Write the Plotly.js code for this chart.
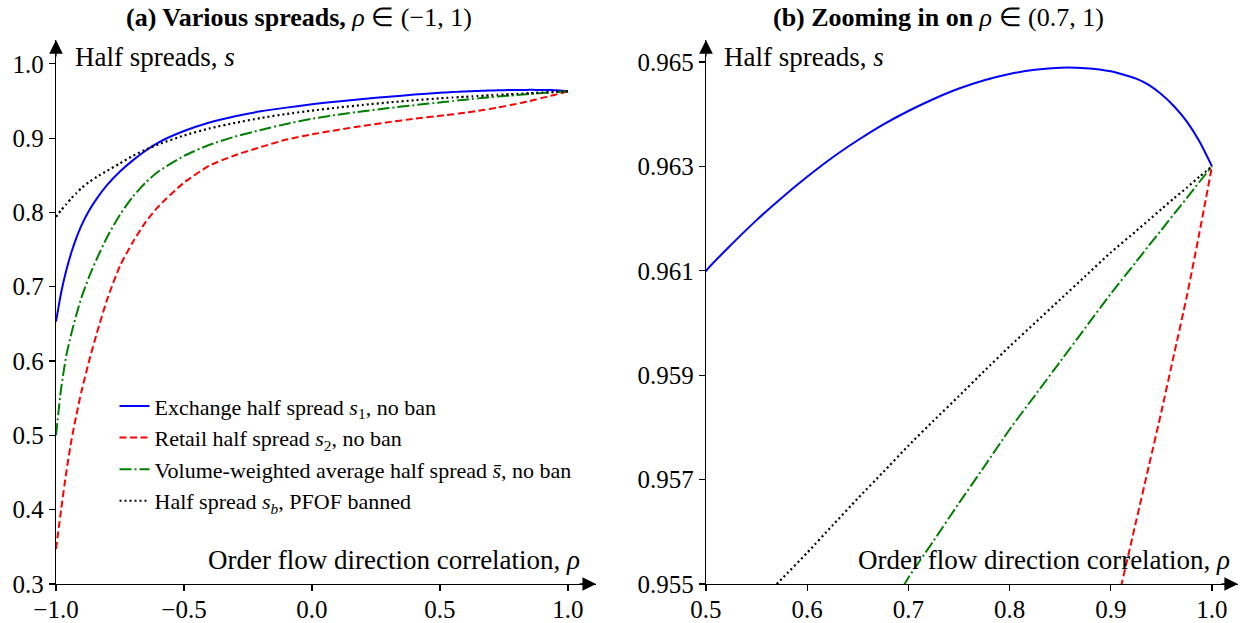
<!DOCTYPE html>
<html>
<head>
<meta charset="utf-8">
<script src="https://cdn.plot.ly/plotly-3.0.1.min.js"></script>
<style>html,body{margin:0;padding:0;background:#fff;}#chart{width:1247px;height:623px;}</style>
</head>
<body>
<div id="chart"></div>
<script>
// Order flow direction correlation (rho)
const rho = [-1, -0.98, -0.96, -0.94, -0.92, -0.9, -0.87, -0.84, -0.8, -0.75, -0.7, -0.65, -0.6,
  -0.5, -0.4, -0.3, -0.2, -0.1, 0, 0.1, 0.2, 0.3, 0.4,
  0.5, 0.525, 0.55, 0.575, 0.6, 0.625, 0.65, 0.675, 0.7, 0.725, 0.75, 0.775, 0.8, 0.825, 0.85,
  0.875, 0.9, 0.925, 0.9375, 0.95, 0.9625, 0.975, 0.9875, 1.0];
// Exchange half spread s1, no ban
const s1 = [0.653, 0.692, 0.722, 0.746, 0.766, 0.783, 0.803, 0.819, 0.837, 0.855, 0.870, 0.883, 0.894,
  0.9095, 0.921, 0.9295, 0.936, 0.941, 0.9455, 0.9493, 0.9527, 0.9557, 0.9585,
  0.96100, 0.96150, 0.96197, 0.96240, 0.96280, 0.96317, 0.96350, 0.96380, 0.96406, 0.96429,
  0.96449, 0.96465, 0.96477, 0.96485, 0.96489, 0.96488, 0.96482, 0.96468, 0.96456, 0.96438,
  0.96415, 0.96386, 0.96348, 0.96300];
// Retail half spread s2, no ban
const s2 = [0.347, 0.400, 0.450, 0.493, 0.528, 0.560, 0.601, 0.638, 0.683, 0.728, 0.760, 0.787, 0.808,
  0.840, 0.863, 0.877, 0.888, 0.898, 0.905, 0.911, 0.9165, 0.9215, 0.926,
  0.9300, 0.9310, 0.9320, 0.9331, 0.9343, 0.9355, 0.9368, 0.9382, 0.9396, 0.9411, 0.9427,
  0.9444, 0.9461, 0.9480, 0.9499, 0.9520, 0.9541, 0.9562, 0.95725, 0.9583, 0.9594, 0.9605,
  0.96172, 0.9630];
// Volume-weighted average half spread, no ban
const sAvg = [0.500, 0.563, 0.607, 0.637, 0.663, 0.686, 0.714, 0.738, 0.767, 0.797, 0.821, 0.840, 0.855,
  0.876, 0.891, 0.902, 0.911, 0.919, 0.926, 0.9315, 0.9362, 0.9404, 0.9443,
  0.94803, 0.94896, 0.94988, 0.95080, 0.95172, 0.95259, 0.95344, 0.95428, 0.95512, 0.95583,
  0.95655, 0.95725, 0.95796, 0.95861, 0.95926, 0.95991, 0.96056, 0.96117, 0.96148, 0.96178,
  0.96209, 0.96239, 0.96270, 0.96300];
// Half spread s_b, PFOF banned
const sBan = [0.794, 0.803, 0.811, 0.819, 0.826, 0.833, 0.841, 0.848, 0.856, 0.866, 0.876, 0.8845, 0.8915,
  0.9035, 0.913, 0.9205, 0.927, 0.9325, 0.937, 0.941, 0.9447, 0.9480, 0.9509,
  0.95350, 0.95410, 0.95460, 0.95510, 0.95560, 0.95612, 0.95664, 0.95714, 0.95765, 0.95813,
  0.95860, 0.95908, 0.95955, 0.96000, 0.96045, 0.96090, 0.96135, 0.96176, 0.96197, 0.96218,
  0.96239, 0.96259, 0.96280, 0.96300];

const seriesNames = [
  'Exchange half spread <i>s</i><sub>1</sub>, no ban',
  'Retail half spread <i>s</i><sub>2</sub>, no ban',
  'Volume-weighted average half spread <i>s\u0304</i>, no ban',
  'Half spread <i>s<sub>b</sub></i>, PFOF banned'
];
const seriesValues = [s1, s2, sAvg, sBan];
const seriesStyles = [
  {color: '#0000ff', dash: 'solid', width: 2},
  {color: '#ff0000', dash: '7px,3.5px', width: 2},
  {color: '#008000', dash: '12px,3px,2px,3px', width: 2},
  {color: '#000000', dash: '2px,3px', width: 2.2}
];

const leftXTicks = [-1, -0.5, 0, 0.5, 1];
const leftYTicks = [0.3, 0.4, 0.5, 0.6, 0.7, 0.8, 0.9, 1.0];
const rightXTicks = [0.5, 0.6, 0.7, 0.8, 0.9, 1.0];
const rightYTicks = [0.955, 0.957, 0.959, 0.961, 0.963, 0.965];

const traces = [];
[['x', 'y', true], ['x2', 'y2', false]].forEach(([xa, ya, leg]) => {
  seriesValues.forEach((vals, i) => {
    const st = seriesStyles[i];
    traces.push({x: rho, y: vals, type: 'scatter', mode: 'lines', name: seriesNames[i],
      xaxis: xa, yaxis: ya, showlegend: leg, hoverinfo: 'skip',
      line: {color: st.color, dash: st.dash, width: st.width, shape: 'spline', smoothing: 0.6}});
  });
});

const FONT = 'Liberation Serif';
const axisCommon = {
  showline: true, linecolor: '#000', linewidth: 1.3, ticks: 'outside', ticklen: 6,
  tickwidth: 1.2, tickcolor: '#000', showgrid: false, zeroline: false, automargin: false,
  tickfont: {family: FONT, size: 25, color: '#000'}
};
const xTickFont = {family: FONT, size: 25, color: '#000'};

const arrowCommon = {text: '', showarrow: true, arrowhead: 2, arrowsize: 2.1, arrowwidth: 1.3,
  arrowcolor: '#000', standoff: 0, startstandoff: 0};
const labelFont = {family: FONT, size: 27, color: '#000'};
const titleFont = {family: FONT, size: 26, color: '#000'};

const layout = {
  width: 1247, height: 623,
  margin: {l: 56, r: 9, t: 40, b: 39},
  paper_bgcolor: '#fff', plot_bgcolor: '#fff',
  font: {family: FONT, color: '#000'},
  showlegend: true,
  legend: {x: 0.0495, y: 0.3655, xanchor: 'left', yanchor: 'top', bgcolor: 'rgba(0,0,0,0)',
    font: {family: FONT, size: 22, color: '#000'}, tracegroupgap: 0},
  xaxis: Object.assign({}, axisCommon, {domain: [0, 0.4569], range: [-1, 1.11], anchor: 'y',
    tickvals: leftXTicks, tickformat: '.1f', tickfont: xTickFont, ticklabelstandoff: -3}),
  yaxis: Object.assign({}, axisCommon, {domain: [0, 1], range: [0.3, 1.032], anchor: 'x',
    tickvals: leftYTicks, tickformat: '.1f'}),
  xaxis2: Object.assign({}, axisCommon, {domain: [0.5499, 1], range: [0.5, 1.0257], anchor: 'y2',
    tickvals: rightXTicks, tickformat: '.1f', tickfont: xTickFont, ticklabelstandoff: -3}),
  yaxis2: Object.assign({}, axisCommon, {domain: [0, 1], range: [0.955, 0.96542], anchor: 'x2',
    tickvals: rightYTicks, tickformat: '.3f'}),
  annotations: [
    Object.assign({}, arrowCommon, {xref: 'x', yref: 'y', x: 1.11, y: 0.3, ax: -18, ay: 0}),
    Object.assign({}, arrowCommon, {xref: 'x', yref: 'y', x: -1, y: 1.032, ax: 0, ay: 18}),
    Object.assign({}, arrowCommon, {xref: 'x2', yref: 'y2', x: 1.0257, y: 0.955, ax: -18, ay: 0}),
    Object.assign({}, arrowCommon, {xref: 'x2', yref: 'y2', x: 0.5, y: 0.96542, ax: 0, ay: 18}),
    {xref: 'paper', yref: 'paper', x: 0.2056, y: 1.042, xanchor: 'center', yanchor: 'middle',
      showarrow: false, text: '<b>(a) Various spreads,</b> <i>ρ</i> ∈ (−1, 1)', font: titleFont},
    {xref: 'paper', yref: 'paper', x: 0.747, y: 1.042, xanchor: 'center', yanchor: 'middle',
      showarrow: false, text: '<b>(b) Zooming in on</b> <i>ρ</i> ∈ (0.7, 1)', font: titleFont},
    {xref: 'paper', yref: 'paper', x: 0.0144, y: 0.969, xanchor: 'left', yanchor: 'middle',
      showarrow: false, text: 'Half spreads, <i>s</i>', font: labelFont},
    {xref: 'paper', yref: 'paper', x: 0.5635, y: 0.969, xanchor: 'left', yanchor: 'middle',
      showarrow: false, text: 'Half spreads, <i>s</i>', font: labelFont},
    {xref: 'paper', yref: 'paper', x: 0.445, y: 0.044, xanchor: 'right', yanchor: 'middle',
      showarrow: false, text: 'Order flow direction correlation, <i>ρ</i>', font: labelFont},
    {xref: 'paper', yref: 'paper', x: 0.995, y: 0.044, xanchor: 'right', yanchor: 'middle',
      showarrow: false, text: 'Order flow direction correlation, <i>ρ</i>', font: labelFont}
  ]
};

Plotly.newPlot('chart', traces, layout, {displayModeBar: false, staticPlot: true});
</script>
</body>
</html>
